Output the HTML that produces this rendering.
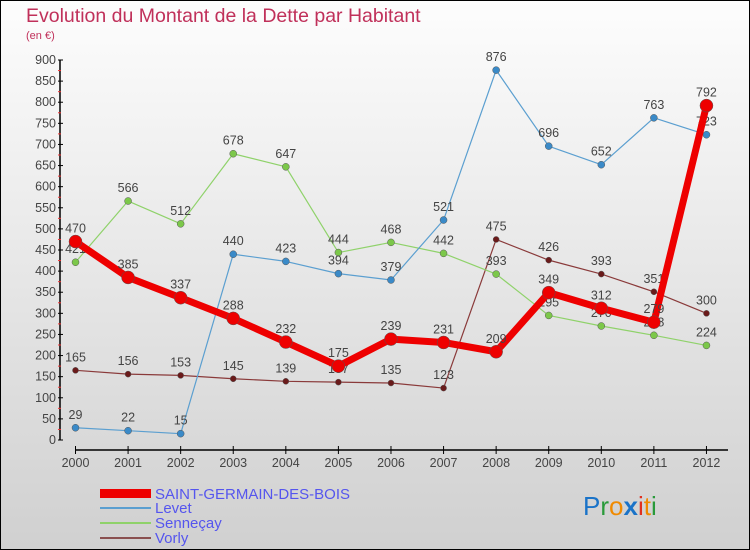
<!DOCTYPE html>
<html><head><meta charset="utf-8"><style>
body{margin:0}
svg{display:block;font-family:"Liberation Sans",sans-serif}
</style></head><body>
<svg width="750" height="550" xmlns="http://www.w3.org/2000/svg">
<defs><linearGradient id="bg" x1="0" y1="0" x2="0" y2="1"><stop offset="0" stop-color="#fdfdfd"/><stop offset="1" stop-color="#d0d0d0"/></linearGradient></defs>
<rect x="0.5" y="0.5" width="749" height="549" fill="url(#bg)" stroke="#000"/>
<text x="26" y="22" font-size="19.5" fill="#c0305a">Evolution du Montant de la Dette par Habitant</text>
<text x="26" y="39" font-size="11" fill="#c0305a">(en €)</text>
<g id="axes"></g>
<g id="series"></g>
<g>
<rect x="100" y="489" width="51" height="9" fill="#e00"/>
<text x="155" y="499" font-size="15" fill="#5555ee">SAINT-GERMAIN-DES-BOIS</text>
<line x1="100" y1="508" x2="151" y2="508" stroke="#5b9fd0" stroke-width="2"/>
<text x="155" y="513" font-size="15" fill="#5555ee">Levet</text>
<line x1="100" y1="523" x2="151" y2="523" stroke="#8fd26a" stroke-width="2"/>
<text x="155" y="528" font-size="15" fill="#5555ee">Senneçay</text>
<line x1="100" y1="538" x2="151" y2="538" stroke="#8a5050" stroke-width="2"/>
<text x="155" y="543" font-size="15" fill="#5555ee">Vorly</text>
</g>
<text x="583" y="515" font-size="26"><tspan fill="#1a73c8">P</tspan><tspan fill="#2a9a3a">r</tspan><tspan fill="#f08a00">o</tspan><tspan fill="#1a73c8" font-weight="bold">x</tspan><tspan fill="#e03020">i</tspan><tspan fill="#f08a00">t</tspan><tspan fill="#2a9a3a">i</tspan></text>
</svg>
<script>
const years=[2000,2001,2002,2003,2004,2005,2006,2007,2008,2009,2010,2011,2012];
const saint=[470,385,337,288,232,175,239,231,209,349,312,279,792];
const levet=[29,22,15,440,423,394,379,521,876,696,652,763,723];
const senn=[421,566,512,678,647,444,468,442,393,295,270,248,224];
const vorly=[165,156,153,145,139,137,135,123,475,426,393,351,300];
const yTicks=[0,50,100,150,200,250,300,350,400,450,500,550,600,650,700,750,800,850,900];
const NS="http://www.w3.org/2000/svg";
const X=i=>75.5+i*52.58, Y=v=>440-v*380/900;
function mk(t,a,p){const e=document.createElementNS(NS,t);for(const k in a)e.setAttribute(k,a[k]);p.appendChild(e);return e;}
const ax=document.getElementById('axes');
let l=mk('line',{x1:60,y1:60,x2:60,y2:440,stroke:'#000','stroke-width':1.5},ax);


l=mk('line',{x1:75,y1:450,x2:728,y2:450,stroke:'#000','stroke-width':1.5},ax);


yTicks.forEach(v=>{
  const y=Y(v);
  mk('line',{x1:58,y1:y,x2:63,y2:y,stroke:'#000'},ax);
  if(v<900) mk('line',{x1:58,y1:Y(v+25),x2:61,y2:Y(v+25),stroke:'#e33'},ax);
  const t=mk('text',{x:56,y:y+4,'text-anchor':'end','font-size':12.5,fill:'#444'},ax);
  t.textContent=v;
  
  
});
years.forEach((yr,i)=>{
  mk('line',{x1:X(i),y1:446,x2:X(i),y2:454,stroke:'#000'},ax);
  const t=mk('text',{x:X(i),y:467,'text-anchor':'middle','font-size':12.5,fill:'#444'},ax);
  t.textContent=yr;
  
  
});
const sg=document.getElementById('series');
function series(name,vals,color,w,r,dot){
  const g=mk('g',{},sg);
  
  
  mk('polyline',{points:vals.map((v,i)=>X(i)+','+Y(v)).join(' '),fill:'none',stroke:color,'stroke-width':w,'stroke-linejoin':'round'},g);
  vals.forEach((v,i)=>{
    const c=mk('circle',{cx:X(i),cy:Y(v),r:r,fill:dot,stroke:'#555','stroke-width':0.5},g);
    
    
    const t=mk('text',{x:X(i),y:Y(v)-9,'text-anchor':'middle','font-size':12.5,fill:'#444'},g);
    t.textContent=v;
    
    
  });
}
series('vorly-series',vorly,'#8a3a3a',1.2,3,'#6a1a1a');
series('sennecay-series',senn,'#8fd26a',1.2,3.5,'#7cc84a');
series('levet-series',levet,'#5b9fd0',1.2,3.5,'#3a8ac8');
series('saint-germain-series',saint,'#ee0000',7,6.5,'#ee0000');
</script>
</body></html>
